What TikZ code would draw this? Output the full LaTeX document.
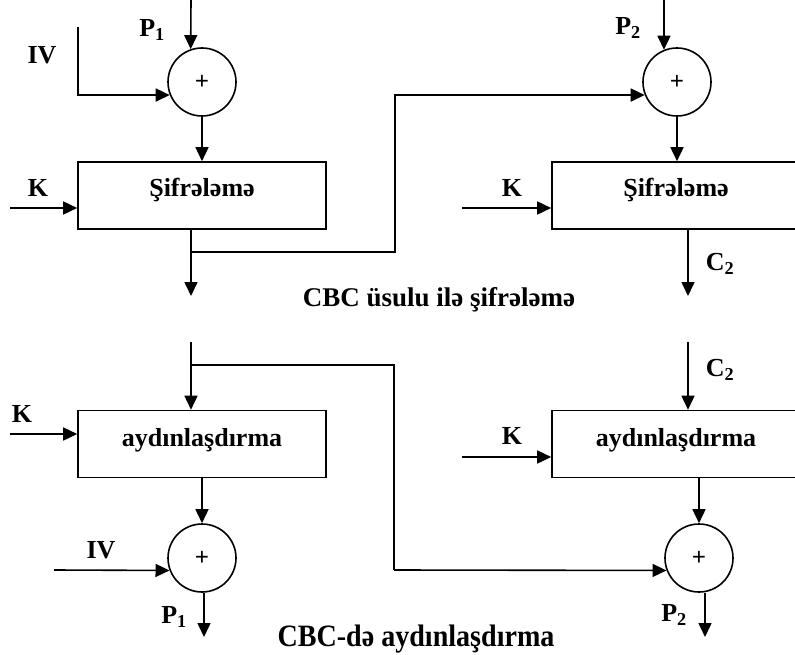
\documentclass[tikz,border=0pt]{standalone}
\usepackage{fontspec}
\setmainfont{Liberation Serif}
\usetikzlibrary{arrows.meta}
\begin{document}
\begin{tikzpicture}[x=1pt,y=-1pt,
  line width=1.6pt,
  arr/.style={-{Triangle[length=14pt,width=13pt]}},
  xorc/.style={draw,circle,minimum size=68pt,inner sep=0pt,font=\fontsize{25}{25}\selectfont\bfseries},
  blk/.style={draw,rectangle,minimum width=248pt,minimum height=67pt,inner sep=0pt},
  lbl/.style={font=\fontsize{26}{26}\selectfont\bfseries,inner sep=0pt},
  ttl/.style={font=\fontsize{27}{27}\selectfont\bfseries,inner sep=0pt}]
\useasboundingbox (0,0) rectangle (795,655);
\clip (0,0) rectangle (795,655);
% ---------- encryption ----------
\node[xorc] (c1) at (202,82) {+};
\node[xorc] (c2) at (677,82) {+};
\node[blk] (e1) at (202,195.5) {};
\node[blk] (e2) at (676,195.5) {};
\node[lbl] (e1t) at (202,190) {Şifrələmə};
\node[lbl] (e2t) at (676,190) {Şifrələmə};
\node[lbl] (p1l) at (152,30) {P\textsubscript{1}};
\node[lbl] (p2l) at (628,28) {P\textsubscript{2}};
\node[lbl] (ivl) at (42,55) {IV};
\node[lbl] (k1l) at (38,188) {K};
\node[lbl] (k2l) at (512,188) {K};
\node[lbl] (c2l) at (720,264) {C\textsubscript{2}};
\node[ttl] (t1) at (439,300) {CBC üsulu ilə şifrələmə};
\coordinate (p1in) at (191,0);
\coordinate (p2in) at (664,0);
\coordinate (ivin) at (78,27);
\coordinate (k1in) at (10,208);
\coordinate (k2in) at (462,208);
\coordinate (o1) at (191,296);
\coordinate (br1) at (191,252);
\coordinate (o2) at (688,296);
\draw[arr] (p1in) -- (c1.109);
\draw[arr] (p2in) -- (c2.112);
\draw[arr] (ivin) |- (c1.202);
\draw[arr] (c1.south) -- (e1.north);
\draw[arr] (c2.south) -- (e2.north -| c2.south);
\draw[arr] (k1in) -- (k1in -| e1.west);
\draw[arr] (k2in) -- (k2in -| e2.west);
\draw[arr] (o1 |- e1.south) -- (o1);
\draw[arr] (br1) -| (395,95) -- (c2.202);
\draw[arr] (o2 |- e2.south) -- (o2);
% ---------- decryption ----------
\node[blk] (d1) at (202,444) {};
\node[blk] (d2) at (676,444) {};
\node[lbl] (d1t) at (202,440) {aydınlaşdırma};
\node[lbl] (d2t) at (676,440) {aydınlaşdırma};
\node[xorc] (c3) at (202,558) {+};
\node[xorc] (c4) at (699,558) {+};
\node[lbl] (k3l) at (22,414) {K};
\node[lbl] (k4l) at (512,436) {K};
\node[lbl] (iv2l) at (101,550) {IV};
\node[lbl] (c2l2) at (720,370) {C\textsubscript{2}};
\node[lbl] (p1o) at (174,617) {P\textsubscript{1}};
\node[lbl] (p2o) at (674,615) {P\textsubscript{2}};
\node[ttl] (t2) at (416,639) {\scalebox{1.04}[1.15]{CBC-də aydınlaşdırma}};
\coordinate (cin) at (191,342);
\coordinate (br2) at (191,365);
\coordinate (c2in) at (688,342);
\coordinate (k3in) at (10,434);
\coordinate (k4in) at (462,457);
\coordinate (iv2in) at (54,570);
\coordinate (p1out) at (204,637);
\coordinate (p2out) at (705,637);
\draw[arr] (cin) -- (cin |- d1.north);
\draw (br2) -| (394,570);
\draw[arr] (394,570) -- (c4.201);
\draw[arr] (c2in) -- (c2in |- d2.north);
\draw[arr] (k3in) -- (k3in -| d1.west);
\draw[arr] (k4in) -- (k4in -| d2.west);
\draw[arr] (d1.south) -- (c3.north);
\draw[arr] (d2.south -| c4.north) -- (c4.north);
\draw[arr] (iv2in) -- (c3.201);
\draw[arr] (p1out |- c3.south) -- (p1out);
\draw[arr] (p2out |- c4.south) -- (p2out);
\end{tikzpicture}
\end{document}
